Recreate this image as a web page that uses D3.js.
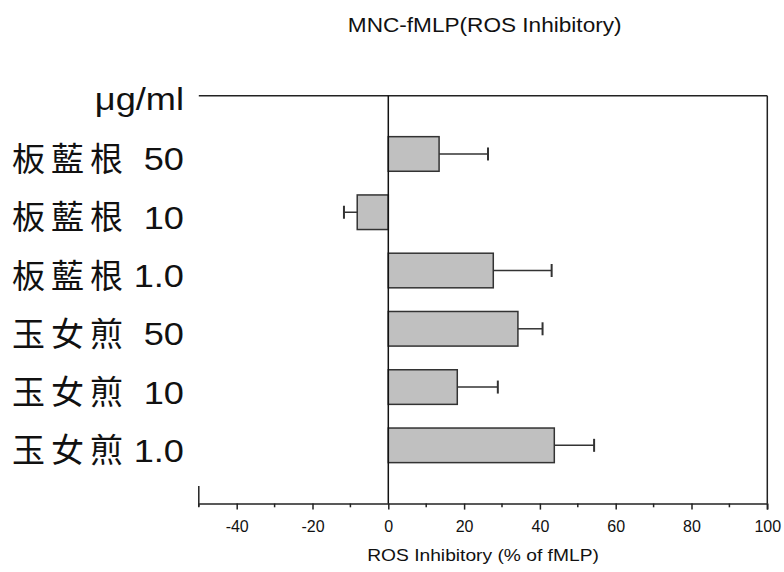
<!DOCTYPE html>
<html>
<head>
<meta charset="utf-8">
<script src="https://cdn.jsdelivr.net/npm/d3@7"></script>
<style>
  body { margin: 0; background: #fff; }
  text { font-family: "Liberation Sans", Arial, sans-serif; fill: #111; }
</style>
</head>
<body>
<svg width="784" height="572"></svg>
<script>
let width = 784, height = 572;

// Data
const herbs = ["板藍根", "板藍根", "板藍根", "玉女煎", "玉女煎", "玉女煎"];
const doses = ["50", "10", "1.0", "50", "10", "1.0"];
const values = [13.4, -8.2, 27.7, 34.2, 18.2, 43.8];
const errors = [12.9, 3.5, 15.4, 6.5, 10.7, 10.5];
const xTicks = [-40, -20, 0, 20, 40, 60, 80, 100];
const xMinor = [-50, -30, -10, 10, 30, 50, 70, 90];

const rows = herbs.map((h, i) => ({ herb: h, dose: doses[i], value: values[i], err: errors[i], idx: i + 1 }));

let svg = d3.select("svg");

let x = d3.scaleLinear().domain([-50, 100]).range([198.8, 767.3]);
// row 0 is the unit label at the top edge, row 7 is the x axis
let y = d3.scaleLinear().domain([0, 7]).range([95.7, 503.6]);
const barH = 34.6;
const stretch = 1.13;

function widen(sel) {
  sel.each(function () {
    let w = this.getComputedTextLength();
    d3.select(this).attr("textLength", w * stretch).attr("lengthAdjust", "spacingAndGlyphs");
  });
}

// title
svg.append("text")
  .attr("x", 484.7).attr("y", 31.7)
  .attr("text-anchor", "middle")
  .style("font-size", "20px")
  .text("MNC-fMLP(ROS Inhibitory)")
  .call(widen);

// frame: top and right edges
svg.append("line")
  .attr("x1", x(-50)).attr("x2", x(100))
  .attr("y1", y(0)).attr("y2", y(0))
  .attr("stroke", "#222").attr("stroke-width", 1.5);
svg.append("line")
  .attr("x1", x(100)).attr("x2", x(100))
  .attr("y1", y(0)).attr("y2", y(7))
  .attr("stroke", "#222").attr("stroke-width", 1.5);
// stub of left axis
svg.append("line")
  .attr("x1", x(-50)).attr("x2", x(-50))
  .attr("y1", y(7) - 17.5).attr("y2", y(7) + 3)
  .attr("stroke", "#222").attr("stroke-width", 1.5);

// x axis
let xAxis = svg.append("g")
  .attr("transform", "translate(0," + y(7) + ")")
  .call(d3.axisBottom(x).tickValues(xTicks).tickFormat(d => String(d))
    .tickSize(6).tickPadding(11).tickSizeOuter(0));
xAxis.select(".domain").attr("stroke", "#222").attr("stroke-width", 1.5);
xAxis.selectAll(".tick line").attr("stroke", "#222").attr("stroke-width", 1.5);
xAxis.selectAll(".tick text")
  .style("font-size", "16px")
  .style("font-family", "'Liberation Sans', Arial, sans-serif")
  .attr("fill", "#222");

svg.append("g")
  .selectAll("line")
  .data(xMinor)
  .enter()
  .append("line")
  .attr("x1", d => x(d)).attr("x2", d => x(d))
  .attr("y1", y(7)).attr("y2", y(7) + 3.7)
  .attr("stroke", "#222").attr("stroke-width", 1.5);
svg.append("line")
  .attr("x1", x(100)).attr("x2", x(100))
  .attr("y1", y(7)).attr("y2", y(7) + 6)
  .attr("stroke", "#222").attr("stroke-width", 1.5);

// x title
svg.append("text")
  .attr("x", (x(-50) + x(100)) / 2).attr("y", 561)
  .attr("text-anchor", "middle")
  .style("font-size", "17px")
  .text("ROS Inhibitory (% of fMLP)")
  .call(widen);

// bars
svg.append("g")
  .selectAll("rect")
  .data(rows)
  .enter()
  .append("rect")
  .attr("x", d => x(Math.min(0, d.value)))
  .attr("y", d => y(d.idx) - barH / 2)
  .attr("width", d => Math.abs(x(d.value) - x(0)))
  .attr("height", barH)
  .attr("fill", "#c0c0c0")
  .attr("stroke", "#333")
  .attr("stroke-width", 1.5);

// error bars
let eb = svg.append("g")
  .selectAll("g")
  .data(rows)
  .enter()
  .append("g");
eb.append("line")
  .attr("x1", d => x(d.value))
  .attr("x2", d => x(d.value + Math.sign(d.value) * d.err))
  .attr("y1", d => y(d.idx)).attr("y2", d => y(d.idx))
  .attr("stroke", "#333").attr("stroke-width", 1.5);
eb.append("line")
  .attr("x1", d => x(d.value + Math.sign(d.value) * d.err))
  .attr("x2", d => x(d.value + Math.sign(d.value) * d.err))
  .attr("y1", d => y(d.idx) - 6.5).attr("y2", d => y(d.idx) + 6.5)
  .attr("stroke", "#333").attr("stroke-width", 2);

// zero line
svg.append("line")
  .attr("x1", x(0)).attr("x2", x(0))
  .attr("y1", y(0)).attr("y2", y(7))
  .attr("stroke", "#111").attr("stroke-width", 1.5);

// y labels
svg.append("text")
  .attr("x", 184).attr("y", y(0) + 14.6)
  .attr("text-anchor", "end")
  .style("font-size", "32px")
  .text("μg/ml")
  .call(widen);

let lab = svg.append("g")
  .selectAll("g")
  .data(rows)
  .enter()
  .append("g");
lab.append("text")
  .attr("x", 12).attr("y", d => y(d.idx) + 17)
  .style("font-family", "'Noto Sans CJK TC', 'Noto Sans CJK SC', sans-serif")
  .style("font-size", "33px")
  .style("letter-spacing", "6px")
  .text(d => d.herb);
lab.append("text")
  .attr("x", 184).attr("y", d => y(d.idx) + 16.5)
  .attr("text-anchor", "end")
  .style("font-size", "32px")
  .text(d => d.dose)
  .call(widen);
</script>
</body>
</html>
